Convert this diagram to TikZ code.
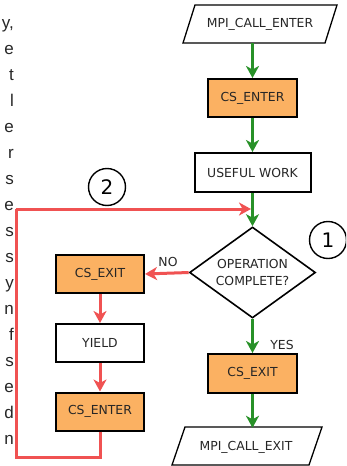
\documentclass[tikz,border=0pt]{standalone}
\usepackage{fontspec}
\setmainfont{DejaVu Sans}
\newfontfamily\parafont{Liberation Sans}
\usetikzlibrary{shapes.geometric,arrows.meta}
\definecolor{boxorange}{RGB}{251,177,98}
\definecolor{flowgreen}{RGB}{40,145,40}
\definecolor{loopred}{RGB}{240,82,82}
\begin{document}
\begin{tikzpicture}[x=1pt,y=-1pt,
  lbl/.style={font=\fontsize{12.4}{17}\selectfont, text=black!85},
  box/.style={draw=black, line width=2pt, minimum height=38pt, inner sep=0pt, lbl},
  csbox/.style={box, fill=boxorange, minimum width=89pt},
  plainbox/.style={box, fill=white},
  io/.style={lbl, inner sep=0pt, minimum width=130pt, minimum height=38pt},
  tipstyle/.style={-{Stealth[length=12pt,width=13pt,inset=3.5pt]}},
  garrow/.style={draw=flowgreen, line width=3pt, tipstyle},
  rarrow/.style={draw=loopred, line width=3pt, tipstyle},
  rline/.style={draw=loopred, line width=3pt},
  numcircle/.style={circle, draw, line width=1.4pt, minimum size=37pt, inner sep=0pt, font=\fontsize{20}{21}\selectfont},
  para/.style={anchor=base east, inner sep=0pt, font=\parafont\fontsize{17}{20}\selectfont, text=black!85}
]
\path[use as bounding box] (0,0) rectangle (346,466);
\clip (0,0) rectangle (346,466);

% cropped paragraph on the left
\foreach \ch [count=\k from 0] in {{y,},e,t,l,e,r,s,e,s,s,y,n,f,s,e,d,n}
  \node[para] (p\k) at (14,28+26*\k) {\ch};

% main column
\draw[line width=1.3pt] (195,5) -- (337,5) -- (325,43) -- (183,43) -- cycle;
\node[io] (enter) at (260,24) {MPI\_CALL\_ENTER};
\node[csbox] (csenterR) at (252.5,98) {CS\_ENTER};
\node[plainbox, minimum width=116pt, minimum height=39pt] (work) at (252.5,172.5) {USEFUL WORK};
\node[diamond, draw, line width=1.6pt, minimum width=126pt, minimum height=91pt, inner sep=0pt, aspect=1.4, align=center, lbl, fill=white] (op) at (252.5,272.5) {OPERATION\\COMPLETE?};
\node[csbox, minimum height=39pt] (csexitR) at (252.5,373.5) {CS\_EXIT};
\draw[line width=1.3pt] (185,427) -- (322,427) -- (309,465) -- (172,465) -- cycle;
\node[io] (exit) at (246,447) {MPI\_CALL\_EXIT};

% left column
\node[csbox, minimum width=88pt] (csexitL) at (100,274) {CS\_EXIT};
\node[plainbox, minimum width=88pt] (yield) at (100,343) {YIELD};
\node[csbox, minimum width=88pt] (csenterL) at (100,411.5) {CS\_ENTER};

% labels and markers
\node[lbl] (no) at (168,262) {NO};
\node[lbl] (yes) at (282,345) {YES};
\node[numcircle] (c1) at (328,240) {1};
\node[numcircle] (c2) at (107,187) {2};

% green flow
\draw[garrow] (enter.south -| csenterR) -- (csenterR.north);
\draw[garrow] (csenterR.south) -- (work.north);
\draw[garrow] (work.south) -- (op.north);
\draw[garrow] (op.south) -- (csexitR.north);
\draw[garrow] (csexitR.south) -- (csexitR.south |- exit.north);

% red loop
\coordinate (loopBL) at (16,457);
\coordinate (loopTL) at (16,209);
\coordinate (merge) at (251,209);
\draw[rarrow] (op.west) -- (csexitL.east);
\draw[rarrow] (csexitL.south) -- (yield.north);
\draw[rarrow] (yield.south) -- (csenterL.north);
\draw[rline] (csenterL.south) |- (loopBL) -- (loopTL);
\draw[rarrow] (loopTL) -- (merge);
\end{tikzpicture}
\end{document}
